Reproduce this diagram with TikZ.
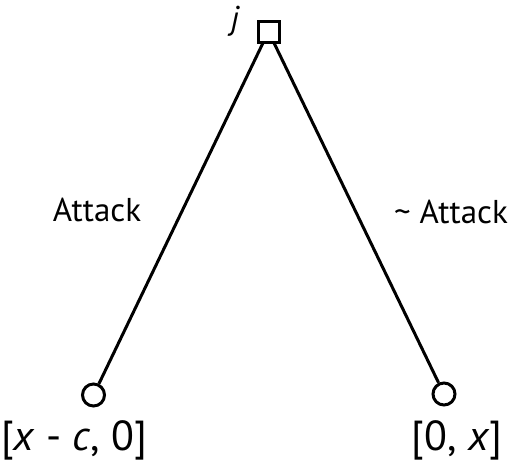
\documentclass[tikz,border=0pt]{standalone}
\usepackage{fontspec}
\setmainfont{PT Sans}
\begin{document}
\begin{tikzpicture}[x=1pt,y=-1pt,
  dec/.style={draw,line width=3pt,minimum size=21pt,inner sep=0pt,fill=white},
  term/.style={draw,circle,line width=3pt,minimum size=22pt,inner sep=0pt,fill=white},
  edge/.style={line width=3pt},
  lbl/.style={font=\fontsize{33}{38}\selectfont,inner sep=0pt},
  pay/.style={font=\fontsize{42}{46}\selectfont,inner sep=0pt}]
\useasboundingbox (0,0) rectangle (520,467);
\node[dec] (j) at (268.5,31.5) {};
\node[term] (l) at (93.5,395) {};
\node[term] (r) at (444,394) {};
\draw[edge] (j) -- (l);
\draw[edge] (j) -- (r);
\node[dec] at (268.5,31.5) {};
\node[lbl,anchor=center] (jl) at (235,21) {\itshape j};
\node[lbl] (a1) at (97,210) {Attack};
\node[lbl] (a2) at (451,212) {\textasciitilde{} Attack};
\node[pay] (p1) at (74,440) {[\textit{x} - \textit{c}, 0]};
\node[pay] (p2) at (457,440) {[0, \textit{x}]};
\end{tikzpicture}
\end{document}
